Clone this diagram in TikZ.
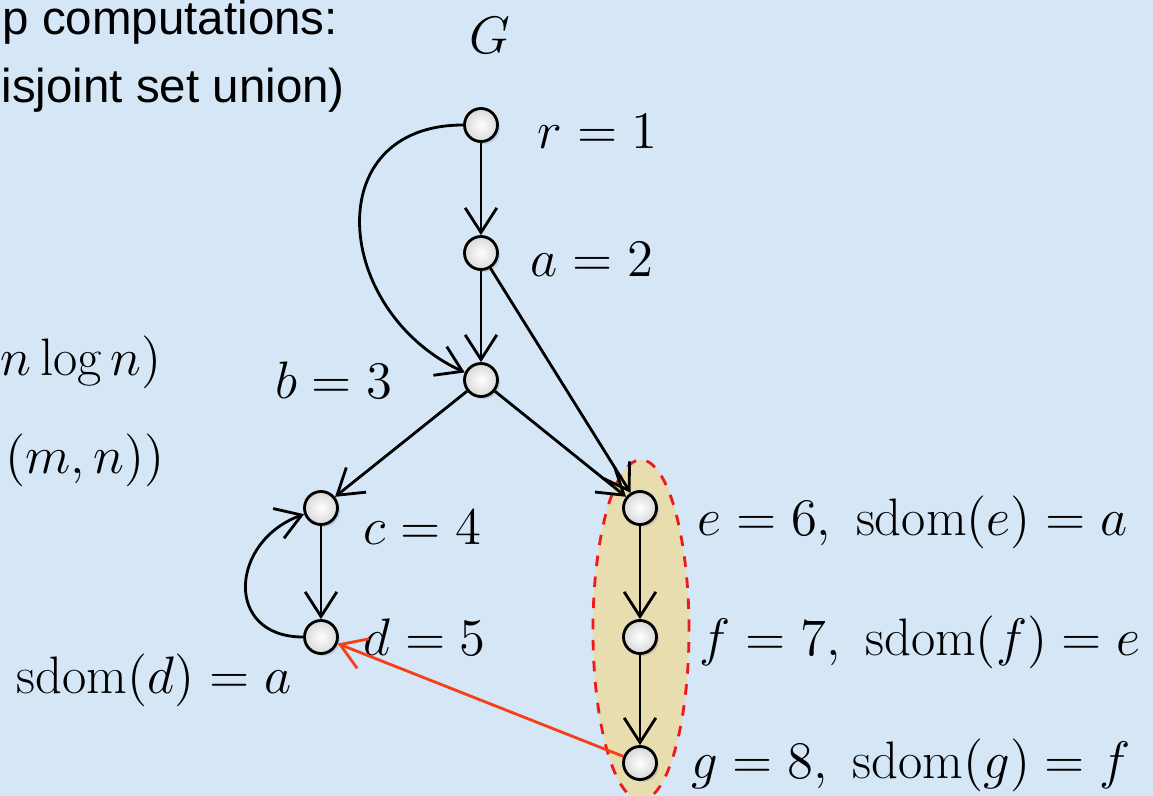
\RequirePackage{fix-cm}
\documentclass[tikz,border=0pt]{standalone}
\usepackage{fontspec}
\newfontfamily\slidesans{Liberation Sans}
\usepackage{xcolor}
\usepackage{tikz}
\usetikzlibrary{arrows.meta,positioning,shapes.geometric,shadows}
\definecolor{slideblue}{HTML}{D5E6F6}
\definecolor{khaki}{HTML}{E7DDAF}
\definecolor{sdomred}{HTML}{F43F17}
\definecolor{hullred}{HTML}{EE1A1A}
\definecolor{nodegray}{HTML}{D8D8D8}
\newcommand{\sdom}{\mathrm{sdom}}
\tikzset{
  vtx/.style={
    circle, draw=black, line width=0.8pt,
    inner color=white, outer color=nodegray,
    minimum size=0.33cm, inner sep=0pt,
    drop shadow={shadow xshift=0.7pt, shadow yshift=-0.7pt, opacity=0.25}
  },
  darc/.style={
    -{Straight Barb[length=7pt, width=9pt]}, line width=0.8pt, color=#1
  },
  darc/.default=black,
  hull/.style={ellipse, draw=hullred, dashed, line width=0.8pt, fill=khaki,
    minimum width=0.96cm, minimum height=3.4cm, inner sep=0pt},
  lbl/.style={inner sep=0pt, font=\fontsize{15}{18}\selectfont},
  sidetext/.style={inner sep=0pt, font=\slidesans\fontsize{13.5}{16}\selectfont},
}
\begin{document}
\begin{tikzpicture}[x=0.01cm, y=0.01cm]
\useasboundingbox (0,0) rectangle (1153,-796);
\clip (0,0) rectangle (1153,-796);
\fill[slideblue] (0,0) rectangle (1153,-796);

% what shows of the slide text on the left
\node[sidetext, anchor=west] (txtA) at (2,-22) {p computations:};
\node[sidetext, anchor=west] (txtB) at (1,-90) {isjoint set union)};
\node[lbl, anchor=west] (costA) at (0,-362) {$n\log n)$};
\node[lbl, anchor=west] (costB) at (5,-460) {$(m,n))$};

\node[hull] (hull) at (641,-630) {};

\node[lbl] (title) at (490,-35) {$G$};
\node[vtx] (r) at (481,-125) {};
\node[vtx] (a) at (481,-253) {};
\node[vtx] (b) at (481,-380) {};
\node[vtx] (c) at (321,-508) {};
\node[vtx] (d) at (321,-637) {};
\node[vtx] (e) at (640,-508) {};
\node[vtx] (f) at (640,-637) {};
\node[vtx] (g) at (640,-763) {};

\node[lbl, anchor=west] (rlab) at (537,-131) {$r=1$};
\node[lbl, anchor=west] (alab) at (530,-259) {$a=2$};
\node[lbl, anchor=east] (blab) at (393,-380) {$b=3$};
\node[lbl, anchor=west] (clab) at (363,-527) {$c=4$};
\node[lbl, anchor=west] (dlab) at (363,-637) {$d=5$};
\node[lbl, anchor=west] (elab) at (697,-522) {$e=6,\ \sdom(e)=a$};
\node[lbl, anchor=west] (flab) at (699,-642) {$f=7,\ \sdom(f)=e$};
\node[lbl, anchor=west] (glab) at (691,-765) {$g=8,\ \sdom(g)=f$};
\node[lbl, anchor=west] (dsdom) at (16,-680) {$\sdom(d)=a$};

\draw[darc] (r) -- (a);
\draw[darc] (a) -- (b);
\draw[darc] (r) to[out=180, in=155, looseness=1.5] (b);
\draw[darc] (a) -- (e);
\draw[darc] (b) -- (c);
\draw[darc] (b) -- (e);
\draw[darc] (c) -- (d);
\draw[darc] (d) to[out=180, in=200, looseness=1.65] (c);
\draw[darc] (e) -- (f);
\draw[darc] (f) -- (g);
\draw[darc=sdomred] (g) -- (d);
\end{tikzpicture}
\end{document}
